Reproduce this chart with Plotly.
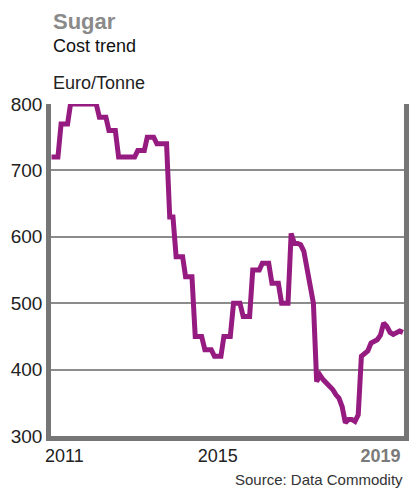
import pandas as pd
import plotly.graph_objects as go

# Monthly sugar cost, Euro per tonne, Sep 2010 - Nov 2019
start_month = "2010-09-01"
prices = [
    720, 720, 720,
    770, 770, 770,
    800, 800, 800, 800, 800, 800, 800, 800, 800,
    780, 780, 780,
    760, 760, 760,
    720, 720, 720, 720, 720, 720,
    730, 730, 730,
    750, 750, 750,
    740, 740, 740, 740,
    630, 630,
    570, 570, 570,
    540, 540, 540,
    450, 450, 450,
    430, 430, 430,
    420, 420, 420,
    450, 450, 450,
    500, 500, 500,
    480, 480, 480,
    550, 550, 550,
    560, 560, 560,
    530, 530, 530,
    500, 500, 500,
    605, 590, 590, 588, 578, 550, 525, 500,
    382, 392, 385, 380, 377, 370, 362, 357, 344, 320,
    325, 325, 322, 332, 420, 424, 428, 440, 442, 445,
    452, 470, 465, 456, 453, 455, 458, 456,
]
months = pd.date_range(start_month, periods=len(prices), freq="MS")

# Axis ticks
y_ticks = [300, 400, 500, 600, 700, 800]
x_tick_dates = ["2011-01-01", "2015-01-01", "2019-04-01"]
x_tick_text = ["2011", "2015", "<b><span style='color:#7a7a7a'>2019</span></b>"]

title_text = "<b>Sugar</b>"
subtitle_text = "Cost trend"
unit_text = "Euro/Tonne"
source_text = "Source: Data Commodity"

LINE_COLOR = "#951b81"
AXIS_COLOR = "#767676"
GRID_COLOR = "#8c8c8c"
FONT = "Liberation Sans"

fig = go.Figure()
fig.add_trace(go.Scatter(
    x=months, y=prices, mode="lines",
    line=dict(color=LINE_COLOR, width=5),
    hoverinfo="x+y", showlegend=False,
))

fig.update_layout(
    width=412, height=490,
    margin=dict(l=51, r=3, t=104, b=54),
    paper_bgcolor="white", plot_bgcolor="white",
    font=dict(family=FONT, size=18, color="#222222"),
    showlegend=False,
)

fig.update_xaxes(
    range=["2010-08-27", "2019-11-11"],
    tickvals=x_tick_dates, ticktext=x_tick_text,
    showgrid=False, zeroline=False,
    showline=True, linecolor=AXIS_COLOR, linewidth=4.5,
    ticks="", tickfont=dict(size=18, color="#222222"),
)
fig.update_yaxes(
    range=[300, 800], tickvals=y_ticks,
    showgrid=True, gridcolor=GRID_COLOR, gridwidth=1.5,
    zeroline=False,
    showline=True, linecolor=AXIS_COLOR, linewidth=4.5, mirror=True,
    ticks="", tickfont=dict(size=19, color="#222222"),
)

annotations = [
    dict(text=title_text, x=0, y=1.25, font=dict(size=22, color="#8a8a8a")),
    dict(text=subtitle_text, x=0, y=1.1756, font=dict(size=18, color="#111111")),
    dict(text=unit_text, x=0, y=1.0642, font=dict(size=18, color="#222222")),
]
for a in annotations:
    fig.add_annotation(xref="paper", yref="paper", xanchor="left",
                       yanchor="middle", showarrow=False, **a)
fig.add_annotation(text=source_text, xref="paper", yref="paper",
                   x=1.004, y=-0.1325, xanchor="right", yanchor="middle",
                   showarrow=False, font=dict(size=15, color="#333333"))

fig.write_html("out.html")
